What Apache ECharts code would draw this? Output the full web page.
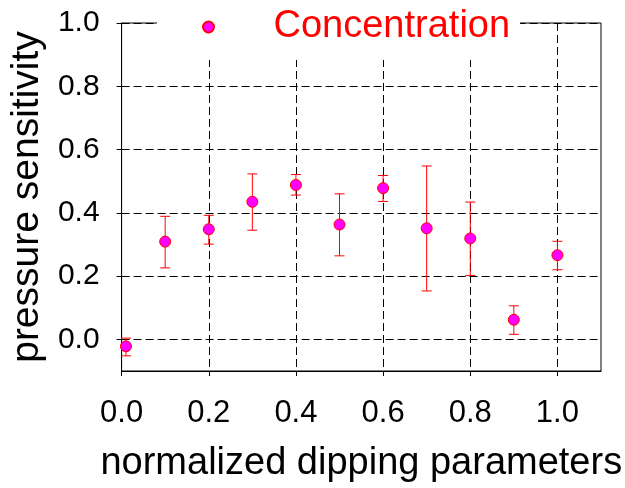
<!DOCTYPE html>
<html>
<head>
<meta charset="utf-8">
<script src="https://cdn.jsdelivr.net/npm/echarts@6/dist/echarts.min.js"></script>
<style>
  html, body { margin: 0; padding: 0; background: #fff; }
  #chart { width: 625px; height: 488px; }
</style>
</head>
<body>
<div id="chart"></div>
<script>
// dipping parameter (x), mean sensitivity and error bar ends
const xVals = [0.01, 0.1, 0.2, 0.3, 0.4, 0.5, 0.6, 0.7, 0.8, 0.9, 1.0];
const yVals = [-0.022, 0.309, 0.348, 0.435, 0.488, 0.363, 0.478, 0.351, 0.319, 0.062, 0.266];
const errHigh = [0.004, 0.389, 0.392, 0.523, 0.521, 0.46, 0.518, 0.548, 0.434, 0.106, 0.31];
const errLow = [-0.052, 0.226, 0.301, 0.345, 0.456, 0.264, 0.436, 0.153, 0.202, 0.016, 0.22];
const xTicks = [0, 0.2, 0.4, 0.6, 0.8, 1.0];
const yTicks = [0, 0.2, 0.4, 0.6, 0.8, 1.0];

const font = 'Arial, "Liberation Sans", sans-serif';
const chart = echarts.init(document.getElementById("chart"));

const points = xVals.map((x, i) => [x, yVals[i]]);
const bars = xVals.map((x, i) => [x, errLow[i], errHigh[i]]);

const option = {
    backgroundColor: "#fff",
    animation: false,
    grid: {
        left: 121, right: 24, top: 23, bottom: 116,
        show: true, borderColor: "#000", borderWidth: 1,
        backgroundColor: "transparent",
    },
    legend: {
        left: 157, top: 0,
        padding: [8, 10, 14, 45],
        backgroundColor: "#fff",
        itemWidth: 20, itemHeight: 11,
        data: ["Concentration"],
        textStyle: { color: "#ff0000", fontSize: 38, fontFamily: font, padding: [0, 0, 0, 50] },
    },
    xAxis: {
        type: "value",
        min: 0, max: 1.1,
        name: "normalized dipping parameters",
        nameLocation: "middle",
        nameGap: 74,
        nameTextStyle: { color: "#000", fontSize: 38, fontFamily: font },
        axisLine: { onZero: false, lineStyle: { color: "#000", width: 1 } },
        axisTick: { show: true, inside: false, length: 5, customValues: xTicks, lineStyle: { color: "#000" } },
        axisLabel: {
            customValues: xTicks, margin: 27, color: "#000", fontSize: 31, fontFamily: font,
            formatter: (v) => v.toFixed(1),
        },
        splitLine: { show: true, lineStyle: { color: "#000", type: [8, 4], width: 1 } },
    },
    yAxis: {
        type: "value",
        min: -0.1, max: 1.0,
        name: "pressure sensitivity",
        nameLocation: "middle",
        nameGap: 74,
        nameTextStyle: { color: "#000", fontSize: 39, fontFamily: font },
        axisLine: { onZero: false, lineStyle: { color: "#000", width: 1 } },
        axisTick: { show: true, inside: false, length: 5, customValues: yTicks, lineStyle: { color: "#000" } },
        axisLabel: {
            customValues: yTicks, margin: 22, color: "#000", fontSize: 30, fontFamily: font,
            formatter: (v) => v.toFixed(1),
        },
        splitLine: { show: true, lineStyle: { color: "#000", type: [8, 4], width: 1 } },
    },
    series: [
        {
            name: "errors",
            type: "custom",
            data: bars,
            z: 2,
            renderItem: (params, api) => {
                const top = api.coord([api.value(0), api.value(2)]);
                const bot = api.coord([api.value(0), api.value(1)]);
                const w = 5;
                const style = { stroke: "#ff0000", lineWidth: 1 };
                return {
                    type: "group",
                    children: [
                        { type: "line", shape: { x1: top[0], y1: top[1], x2: bot[0], y2: bot[1] }, style },
                        { type: "line", shape: { x1: top[0] - w, y1: top[1], x2: top[0] + w, y2: top[1] }, style },
                        { type: "line", shape: { x1: bot[0] - w, y1: bot[1], x2: bot[0] + w, y2: bot[1] }, style },
                    ],
                };
            },
        },
        {
            name: "Concentration",
            type: "scatter",
            data: points,
            z: 3,
            symbol: "circle",
            symbolSize: 11,
            itemStyle: { color: "#ff00ff", borderColor: "#ff0000", borderWidth: 1, opacity: 1 },
        },
    ],
};

chart.setOption(option);
</script>
</body>
</html>
